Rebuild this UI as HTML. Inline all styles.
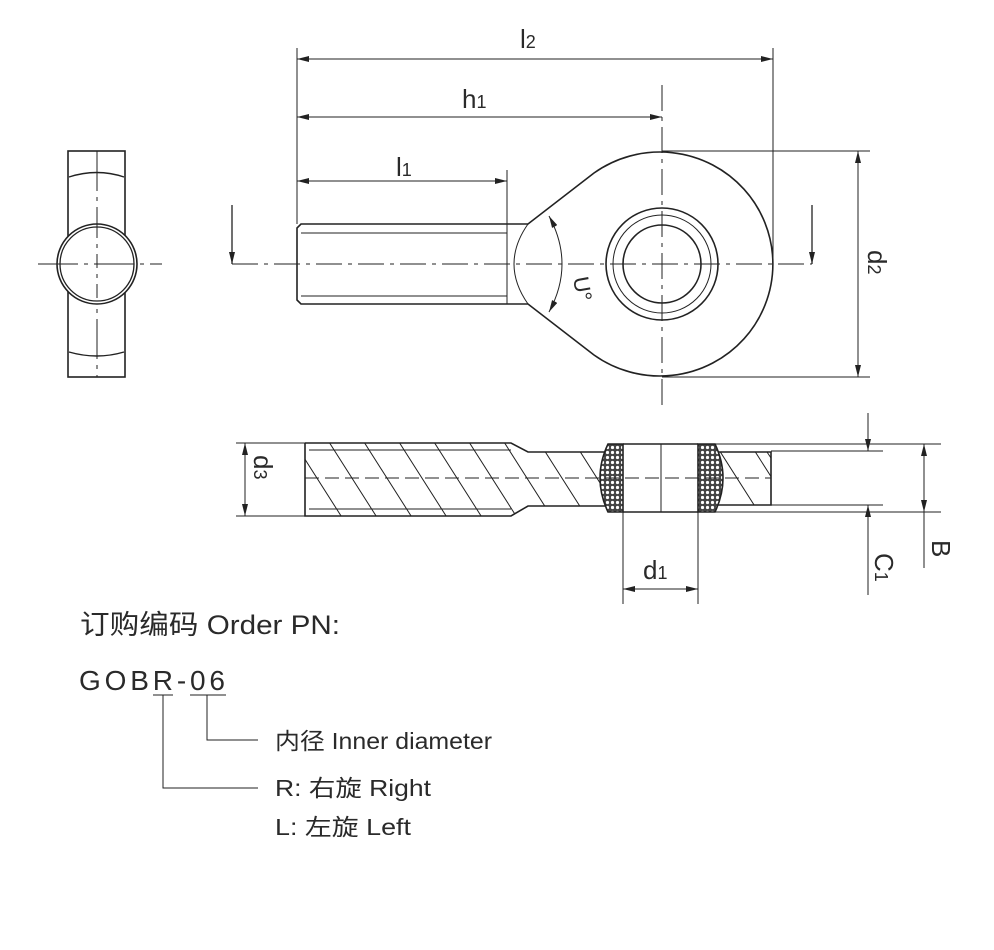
<!DOCTYPE html>
<html><head><meta charset="utf-8"><style>
html,body{margin:0;padding:0;background:#fff;}
svg{display:block;}
text{font-family:"Liberation Sans","Noto Sans CJK SC",sans-serif;fill:#2a2a2a;}
</style></head><body>
<svg width="994" height="950" viewBox="0 0 994 950" xmlns="http://www.w3.org/2000/svg">
<defs>
<marker id="a" viewBox="0 0 12 6" refX="12" refY="3" markerWidth="12" markerHeight="6" orient="auto-start-reverse" markerUnits="userSpaceOnUse"><path d="M0,0 L12,3 L0,6 z" fill="#222"/></marker>
<pattern id="x" width="5" height="5" patternUnits="userSpaceOnUse"><rect width="5" height="5" fill="#444"/><circle cx="2.5" cy="2.5" r="1.6" fill="#fff"/></pattern>
<clipPath id="bodyclip"><path d="M305,443 L511,443 L528,452 L611,452 L611,506 L528,506 L511,516 L305,516 z M720,452 L771,452 L771,505 L720,505 z"/></clipPath>
</defs>
<g stroke="#222" fill="none" stroke-width="1">
<!-- top dims -->
<line x1="297" y1="48" x2="297" y2="224"/>
<line x1="773" y1="48" x2="773" y2="264"/>
<line x1="297" y1="59" x2="773" y2="59" marker-start="url(#a)" marker-end="url(#a)"/>
<line x1="297" y1="117" x2="662" y2="117" marker-start="url(#a)" marker-end="url(#a)"/>
<line x1="507" y1="170" x2="507" y2="224"/>
<line x1="297" y1="181" x2="507" y2="181" marker-start="url(#a)" marker-end="url(#a)"/>
<line x1="662" y1="151" x2="870" y2="151"/>
<line x1="662" y1="377" x2="870" y2="377"/>
<line x1="858" y1="151" x2="858" y2="377" marker-start="url(#a)" marker-end="url(#a)"/>
<!-- centerlines -->
<line x1="232" y1="264" x2="812" y2="264" stroke-dasharray="26,6,4,6"/>
<line x1="662" y1="85" x2="662" y2="405" stroke-dasharray="26,6,4,6"/>
<!-- section arrows -->
<line x1="232" y1="205" x2="232" y2="264" marker-end="url(#a)" stroke-width="1.3"/>
<line x1="812" y1="205" x2="812" y2="264" marker-end="url(#a)" stroke-width="1.3"/>
<!-- shank -->
<path d="M301,224 L528,224 L594,173 A113,112 0 1 1 594,355 L528,304 L301,304 L297,300 L297,228 z" stroke-width="1.6"/>
<line x1="301" y1="233" x2="507" y2="233"/>
<line x1="301" y1="296" x2="507" y2="296"/>
<line x1="507" y1="224" x2="507" y2="304"/>
<path d="M528,224 Q500,264 528,304"/>
<path d="M549,216 Q575,264 549,312" marker-start="url(#a)" marker-end="url(#a)"/>
<circle cx="662" cy="264" r="56" stroke-width="1.6"/>
<circle cx="662" cy="264" r="49"/>
<circle cx="662" cy="264" r="39" stroke-width="1.6"/>
<!-- side view left -->
<rect x="68" y="151" width="57" height="226" stroke-width="1.6"/>
<path d="M69,177 Q97,168 124,177" stroke-width="1.4"/>
<path d="M69,352 Q97,360 124,352" stroke-width="1.4"/>
<line x1="97" y1="151" x2="97" y2="377" stroke-dasharray="40,6,4,6"/>
<circle cx="97" cy="264" r="40" fill="#fff" stroke-width="1.6"/>
<circle cx="97" cy="264" r="37" stroke-width="1.3"/>
<line x1="97" y1="224" x2="97" y2="304" stroke-dasharray="14,6,4,6"/>
<line x1="38" y1="264" x2="162" y2="264" stroke-dasharray="40,6,4,6"/>
<!-- section view -->
<g clip-path="url(#bodyclip)" stroke-width="1">
<path d="M280,420 l70,110 M315,420 l70,110 M350,420 l70,110 M385,420 l70,110 M420,420 l70,110 M455,420 l70,110 M490,420 l70,110 M525,420 l70,110 M560,420 l70,110 M700,420 l70,110 M735,420 l70,110"/>
</g>
<path d="M305,443 L511,443 L528,452 L608,452" stroke-width="1.6"/>
<path d="M608,506 L528,506 L511,516 L305,516 L305,443" stroke-width="1.6"/>
<line x1="309" y1="450" x2="511" y2="450"/>
<line x1="309" y1="509" x2="511" y2="509"/>
<path d="M715,452 L771,452 L771,505 L715,505" stroke-width="1.6"/>
<line x1="767" y1="452" x2="771" y2="458"/>
<path d="M608,444 Q592,478 608,512 L623,512 L623,444 z" fill="url(#x)" stroke-width="1.6"/>
<path d="M698,444 L715,444 Q731,478 715,512 L698,512 z" fill="url(#x)" stroke-width="1.6"/>
<line x1="623" y1="444" x2="698" y2="444" stroke-width="1.6"/>
<line x1="623" y1="512" x2="698" y2="512" stroke-width="1.6"/>
<line x1="661" y1="444" x2="661" y2="512"/>
<line x1="305" y1="478" x2="771" y2="478" stroke-dasharray="14,6"/>
<!-- section dims -->
<line x1="236" y1="443" x2="305" y2="443"/>
<line x1="236" y1="516" x2="305" y2="516"/>
<line x1="245" y1="443" x2="245" y2="516" marker-start="url(#a)" marker-end="url(#a)"/>
<line x1="715" y1="444" x2="941" y2="444"/>
<line x1="715" y1="512" x2="941" y2="512"/>
<line x1="771" y1="451" x2="883" y2="451"/>
<line x1="771" y1="505" x2="883" y2="505"/>
<line x1="924" y1="444" x2="924" y2="512" marker-start="url(#a)" marker-end="url(#a)"/>
<line x1="924" y1="512" x2="924" y2="568"/>
<line x1="868" y1="413" x2="868" y2="451" marker-end="url(#a)"/>
<line x1="868" y1="595" x2="868" y2="505" marker-end="url(#a)"/>
<line x1="623" y1="512" x2="623" y2="604"/>
<line x1="698" y1="512" x2="698" y2="604"/>
<line x1="623" y1="589" x2="698" y2="589" marker-start="url(#a)" marker-end="url(#a)"/>
<!-- PN leaders -->
<line x1="153" y1="695" x2="173" y2="695"/>
<line x1="190" y1="695" x2="226" y2="695"/>
<polyline points="163,695 163,788 258,788"/>
<polyline points="207,695 207,740 258,740"/>
</g>
<!-- dim labels -->
<g font-size="26">
<text x="520" y="48">l<tspan font-size="18">2</tspan></text>
<text x="462" y="108">h<tspan font-size="18">1</tspan></text>
<text x="396" y="176">l<tspan font-size="18">1</tspan></text>
<text transform="translate(868,250) rotate(90)">d<tspan font-size="18">2</tspan></text>
<text transform="translate(254,455) rotate(90)">d<tspan font-size="18">3</tspan></text>
<text x="643" y="579">d<tspan font-size="18">1</tspan></text>
<text transform="translate(875,553) rotate(90)">C<tspan font-size="18">1</tspan></text>
<text transform="translate(932,540) rotate(90)">B</text>
<text transform="translate(573,278) rotate(80)" font-size="22">U°</text>
</g>
<!-- order text -->
<text x="80" y="634" font-size="27" textLength="260" lengthAdjust="spacingAndGlyphs">订购编码 Order PN:</text>
<text x="79" y="690" font-size="28" textLength="146" lengthAdjust="spacing">GOBR-06</text>
<text x="275" y="749" font-size="23" textLength="217" lengthAdjust="spacingAndGlyphs">内径 Inner diameter</text>
<text x="275" y="796" font-size="23" textLength="156" lengthAdjust="spacingAndGlyphs">R: 右旋  Right</text>
<text x="275" y="835" font-size="23" textLength="136" lengthAdjust="spacingAndGlyphs">L: 左旋  Left</text>
</svg>
</body></html>
